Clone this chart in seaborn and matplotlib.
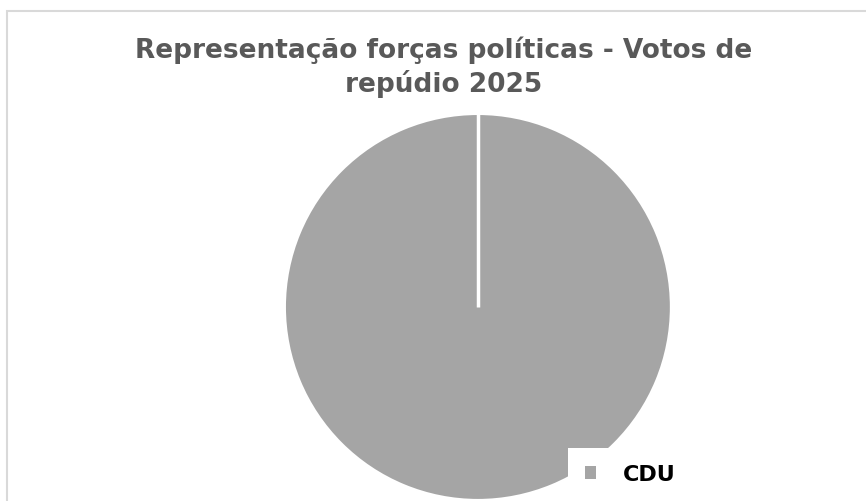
import numpy as np
import seaborn as sns
import matplotlib.pyplot as plt
from matplotlib.patches import Rectangle

# data
parties = ["CDU"]
votes = [1]
colors = ["#a5a5a5"]
title = "Representação forças políticas - Votos de\nrepúdio 2025"

sns.set_theme(style="white")
plt.rcParams['font.family'] = ['DejaVu Sans']

fig = plt.figure(figsize=(8.66, 5.02), dpi=100)

# chart area border (cropped on right/bottom)
fig.patches.append(Rectangle((7.5 / 866, -0.1), 1.2, (502 - 11.5) / 502 + 0.1,
                             transform=fig.transFigure, fill=False,
                             edgecolor="#d9d9d9", linewidth=1.5, zorder=0))

ax = fig.add_axes([0.329, 0.002, 0.4457, 0.769])
wedges, _ = ax.pie(votes, colors=colors, startangle=90, counterclock=False,
                   wedgeprops=dict(edgecolor="white", linewidth=1.5))
# a full-circle wedge has no radial edge drawn, add it from the wedge geometry
for w in wedges:
    cx, cy = w.center
    a = np.deg2rad(w.theta2)
    ax.plot([cx, cx + w.r * np.cos(a)], [cy, cy + w.r * np.sin(a)],
            color="white", linewidth=2.5, solid_capstyle="butt")
ax.set_xlim(-1, 1)
ax.set_ylim(-1, 1)
ax.axis("off")

fig.text(0.512, 0.866, title, ha="center", va="center", fontsize=19,
         fontweight="bold", color="#595959", linespacing=1.3)

leg = fig.legend(wedges, parties, loc="lower left",
                 bbox_to_anchor=(568 / 866, 0.0), frameon=True,
                 prop=dict(weight="bold", size=16), framealpha=1,
                 labelcolor="black",
                 handlelength=0.5, handleheight=0.5, handletextpad=1.2,
                 borderpad=0.75, borderaxespad=0)
leg.get_frame().set_facecolor("white")
leg.get_frame().set_edgecolor("white")
leg.get_frame().set_linewidth(0)
leg.get_frame().set_boxstyle("square", pad=0)
for h in leg.legend_handles:
    h.set_edgecolor("none")

fig.savefig("out.png", dpi=100, facecolor="white")
